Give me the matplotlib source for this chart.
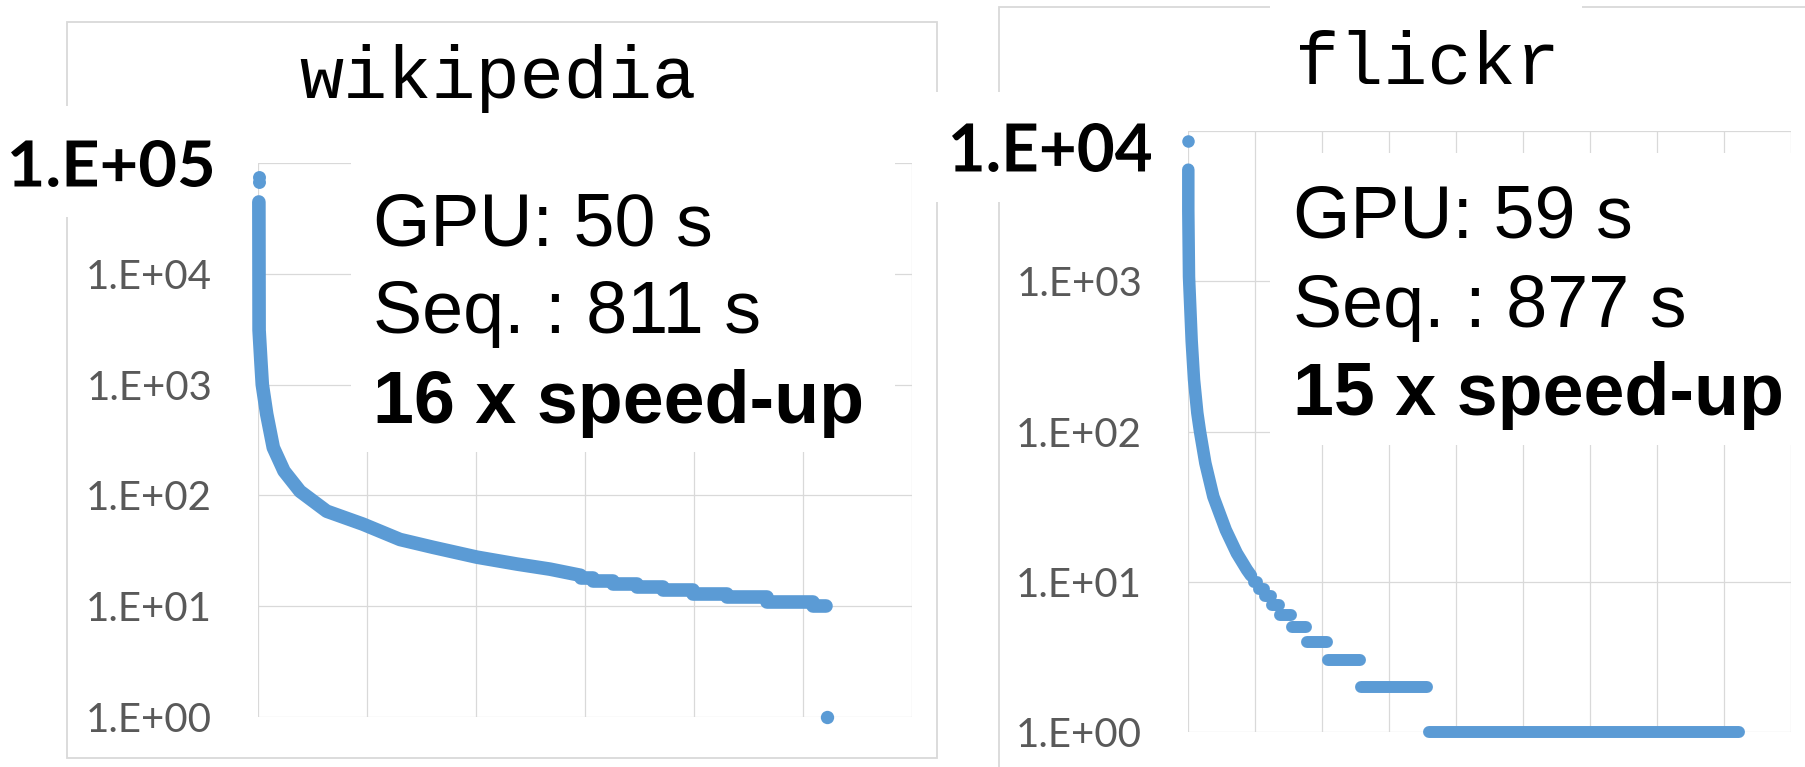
import matplotlib
matplotlib.use("Agg")
import matplotlib.pyplot as plt
import numpy as np
from matplotlib.patches import Rectangle, PathPatch
from matplotlib.ticker import NullLocator
from matplotlib.textpath import TextPath
from matplotlib.font_manager import FontProperties
from matplotlib.transforms import Affine2D

W, H = 1806, 767

# wikipedia: vertex rank (sorted by degree) vs degree
wiki_top_rank = [5000, 5000]
wiki_top_deg = [74000, 67000]
wiki_rank = [4000, 5000, 13800, 19700, 39900, 70200, 119300, 192700, 315100,
             481600, 651400, 802700, 1004600, 1188000, 1339400, 1480000]
wiki_deg = [44500, 3100, 1550, 1000, 542, 270, 166, 109, 72,
            55, 40, 34, 27.7, 24, 21.6, 19]
wiki_step_start = [1480000, 1536700, 1628400, 1738500, 1857800, 1995400, 2151300, 2334900, 2545900]
wiki_step_end = [1536700, 1628400, 1738500, 1857800, 1995400, 2151300, 2334900, 2545900, 2605500]
wiki_step_deg = [18, 17, 16, 15, 14, 13, 12, 11, 10]
wiki_last_rank = [2610000]
wiki_last_deg = [1]

# flickr
flickr_top_rank = [450]
flickr_top_deg = [8580]
flickr_rank = [450, 450, 1500, 5500, 9000, 13900, 17900, 25900, 37800, 56400, 72800, 88000, 94000]
flickr_deg = [5530, 2960, 1070, 400, 221, 133, 100, 61.6, 36.9, 22.1, 15.5, 12, 11]
flickr_step_start = [99100, 106600, 115500, 125100, 138000, 155000, 177900, 209700, 258600, 359200]
flickr_step_end = [103600, 113600, 123600, 136000, 153500, 176800, 208200, 256700, 357300, 822100]
flickr_step_deg = [10, 9, 8, 7, 6, 5, 4, 3, 2, 1]

blue = '#5B9BD5'
grid = '#D9D9D9'
tick_gray = '#595959'

fig = plt.figure(figsize=(W / 100, H / 100), dpi=100)
px = Affine2D().scale(1 / W, 1 / H) + fig.transFigure   # pixels, origin bottom-left


def rect(x0, y0, x1, y1):
    # pixel box (origin top-left) -> figure fraction
    return [x0 / W, 1 - y1 / H, (x1 - x0) / W, (y1 - y0) / H]


def fx(x):
    return x / W


def fy(y):
    return 1 - y / H


def setup(ax, xmax, xstep, ymax, labels):
    ax.set_yscale('log')
    ax.set_xlim(0, xmax)
    ax.set_ylim(1, ymax)
    ax.set_facecolor('none')
    ax.set_xticks(np.arange(0, xmax + 1, xstep))
    ax.yaxis.set_minor_locator(NullLocator())
    ax.xaxis.set_minor_locator(NullLocator())
    ax.set_yticks([10 ** k for k in range(len(labels))])
    ax.set_yticklabels(labels, color=tick_gray, fontsize=29, family='Lato')
    ax.tick_params(axis='x', length=0, labelbottom=False)
    ax.tick_params(axis='y', length=0, pad=33)
    ax.grid(True, color=grid, lw=0.9)
    for s in ax.spines.values():
        s.set_visible(False)


def squeezed_label(text, right, ymid, width, height):
    # bold axis label, squeezed like the pasted Excel label
    tp = TextPath((0, 0), text, size=100, prop=FontProperties(family='Lato', weight='bold'))
    bb = tp.get_extents()
    tr = (Affine2D().translate(-bb.x1, -(bb.y0 + bb.y1) / 2)
          .scale(width / bb.width, height / bb.height)
          .translate(right, H - ymid))
    fig.add_artist(PathPatch(tr.transform_path(tp), transform=px, fc='black',
                             ec='none', zorder=3))


# outer chart borders
fig.add_artist(Rectangle((67, H - 758), 937 - 67, 758 - 22, transform=px,
                         fill=False, ec=grid, lw=1.3, zorder=0.5))
fig.add_artist(Rectangle((999, H - 900), 1950 - 999, 900 - 7, transform=px,
                         fill=False, ec=grid, lw=1.3, zorder=0.5))

# wikipedia
ax1 = fig.add_axes(rect(258, 163, 912, 717))
setup(ax1, 3000000, 500000, 1e5, ['1.E+00', '1.E+01', '1.E+02', '1.E+03', '1.E+04', ''])
ax1.plot(wiki_top_rank, wiki_top_deg, 'o', color=blue, ms=9.3, mew=0, clip_on=False)
ax1.plot(wiki_rank, wiki_deg, color=blue, lw=9.8, solid_capstyle='round',
         solid_joinstyle='round', clip_on=False)
ax1.hlines(wiki_step_deg, wiki_step_start, wiki_step_end, color=blue, lw=9.8,
           capstyle='round', clip_on=False)
ax1.plot(wiki_last_rank, wiki_last_deg, 'o', color=blue, ms=9.6, mew=0, clip_on=False)

# flickr
ax2 = fig.add_axes(rect(1188, 131, 1791, 732))
setup(ax2, 900000, 100000, 1e4, ['1.E+00', '1.E+01', '1.E+02', '1.E+03', ''])
ax2.plot(flickr_top_rank, flickr_top_deg, 'o', color=blue, ms=9.0, mew=0, clip_on=False)
ax2.plot(flickr_rank, flickr_deg, color=blue, lw=9.0, solid_capstyle='round',
         solid_joinstyle='round', clip_on=False)
ax2.hlines(flickr_step_deg, flickr_step_start, flickr_step_end, color=blue, lw=8.6,
           capstyle='round', clip_on=False)

# white text boxes pasted over the charts
for x0, y0, x1, y1 in [(0, 106, 222, 217), (351, 135, 895, 452),
                       (925, 92, 1165, 202), (1270, 153, 1806, 445),
                       (1270, 0, 1582, 16)]:
    fig.add_artist(Rectangle((x0, H - y1), x1 - x0, y1 - y0, transform=px,
                             fc='white', ec='none', zorder=2))

# titles
fig.text(fx(498), fy(98), 'wikipedia', family='Liberation Mono', fontsize=53,
         ha='center', va='baseline', zorder=3)
fig.text(fx(1427), fy(83), 'flickr', family='Liberation Mono', fontsize=53,
         ha='center', va='baseline', zorder=3)

# bold top labels
squeezed_label('1.E+05', 212, 163.5, 201, 47)
squeezed_label('1.E+04', 1151, 147.5, 199, 49)

# timing annotations
for xl, base, lines in [(373, [245, 333, 423], ['GPU: 50 s', 'Seq. : 811 s', '16 x speed-up']),
                        (1293, [237, 327, 415], ['GPU: 59 s', 'Seq. : 877 s', '15 x speed-up'])]:
    for i, (yb, t) in enumerate(zip(base, lines)):
        fig.text(fx(xl), fy(yb), t, family='Liberation Sans', fontsize=53,
                 weight='bold' if i == 2 else 'normal', ha='left', va='baseline', zorder=3)

fig.savefig('out.png', dpi=100)
